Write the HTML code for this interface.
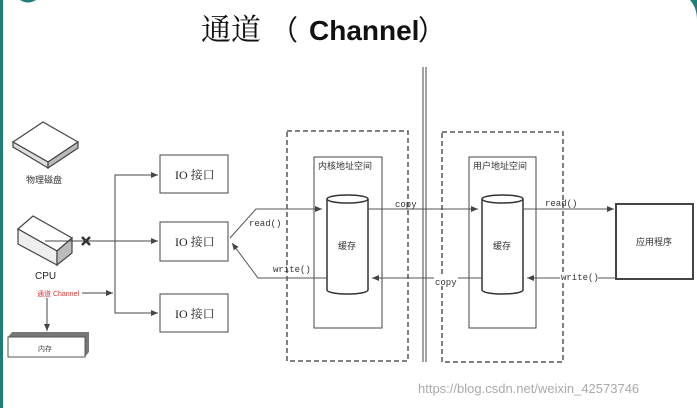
<!DOCTYPE html>
<html><head><meta charset="utf-8"><style>
body{margin:0;background:#fff;}
svg{display:block;}
</style></head><body>
<svg width="697" height="408" viewBox="0 0 697 408" xmlns="http://www.w3.org/2000/svg">
<defs>
<marker id="a" markerWidth="8" markerHeight="8" refX="7" refY="4" orient="auto" markerUnits="userSpaceOnUse"><path d="M0,1 L7,4 L0,7 z" fill="#444"/></marker>
</defs>
<rect x="0" y="0" width="3" height="408" fill="#1d7f78"/>
<path d="M20,0 Q28,5 36,0 z" fill="#1d7f78"/>
<path d="M690,0 Q697,8 697,20 L697,0 z" fill="#1d7f78"/>
<text x="201" y="40" font-size="30" fill="#111" style="font-family:'Noto Serif CJK SC',serif">通道</text>
<text x="270" y="40" font-size="28" fill="#111" style="font-family:'Noto Sans CJK SC',sans-serif">（</text>
<text x="309" y="40" font-size="28" font-weight="bold" fill="#111" style="font-family:'Liberation Sans',sans-serif">Channel</text>
<text x="418" y="40" font-size="28" fill="#111" style="font-family:'Noto Sans CJK SC',sans-serif">）</text>
<g stroke="#444" stroke-width="1.2" fill="#fff">
<path d="M13,142 L43,122 L78,142 L48,162 z"/>
<path d="M13,142 L13,147 L48,168 L48,162 z" fill="#ddd"/>
<path d="M48,162 L78,142 L78,148 L48,168 z" fill="#bbb"/>
</g>
<text x="26" y="183" font-size="9" fill="#333" style="font-family:'Noto Sans CJK SC',sans-serif">物理磁盘</text>
<g stroke="#444" stroke-width="1.2">
<path d="M18,229 L33,216 L72,238 L57,251 z" fill="#fff"/>
<path d="M18,229 L57,251 L57,265 L18,244 z" fill="#eee"/>
<path d="M57,251 L72,238 L72,253 L57,265 z" fill="#bbb"/>
</g>
<text x="35" y="279" font-size="10" fill="#222" style="font-family:'Liberation Sans',sans-serif">CPU</text>
<g stroke="#444" stroke-width="1" fill="none">
<line x1="45" y1="241" x2="158" y2="241" marker-end="url(#a)"/>
<polyline points="158,175 115,175 115,313 158,313" />
<line x1="150" y1="175" x2="158" y2="175" marker-end="url(#a)"/>
<line x1="150" y1="313" x2="158" y2="313" marker-end="url(#a)"/>
<line x1="82" y1="293" x2="113" y2="293" marker-end="url(#a)"/>
<line x1="47" y1="298" x2="47" y2="331" marker-end="url(#a)"/>
</g>
<g stroke="#333" stroke-width="2.5"><line x1="82" y1="237" x2="90" y2="245"/><line x1="90" y1="237" x2="82" y2="245"/></g>
<text x="37" y="296" font-size="7" fill="#d33" style="font-family:'Liberation Sans','Noto Sans CJK SC',sans-serif">通道 Channel</text>
<path d="M8,337 L12,332 L89,332 L89,352 L85,357 z" fill="#777"/>
<rect x="8" y="337" width="77" height="20" fill="#fff" stroke="#555"/>
<text x="38" y="351" font-size="7" fill="#444" style="font-family:'Noto Sans CJK SC',sans-serif">内存</text>
<g fill="#fff" stroke="#444" stroke-width="1">
<rect x="160" y="155" width="68" height="38"/>
<rect x="160" y="222" width="68" height="39"/>
<rect x="160" y="294" width="68" height="38"/>
</g>
<g font-size="12" fill="#222" style="font-family:'Liberation Serif','Noto Serif CJK SC',serif">
<text x="175" y="179">IO 接口</text>
<text x="175" y="246">IO 接口</text>
<text x="175" y="318">IO 接口</text>
</g>
<g fill="none" stroke="#555" stroke-width="1.5" stroke-dasharray="5,3">
<rect x="287" y="131" width="121" height="230"/>
<rect x="442" y="132" width="121" height="230"/>
</g>
<g fill="none" stroke="#444" stroke-width="1">
<rect x="314" y="157" width="68" height="171"/>
<rect x="469" y="157" width="67" height="171"/>
<rect x="616" y="204" width="77" height="75" stroke-width="2"/>
<line x1="423" y1="67" x2="423" y2="362"/><line x1="426" y1="67" x2="426" y2="362"/>
</g>
<g stroke="#333" stroke-width="1.5" fill="#fff">
<path d="M327,199 L327,290 A20.5,4 0 0 0 368,290 L368,199"/>
<ellipse cx="347.5" cy="199" rx="20.5" ry="4"/>
<path d="M482,199 L482,290 A20.5,4 0 0 0 523,290 L523,199"/>
<ellipse cx="502.5" cy="199" rx="20.5" ry="4"/>
</g>
<g font-size="9" fill="#333" style="font-family:'Noto Sans CJK SC',sans-serif">
<text x="318" y="169">内核地址空间</text>
<text x="473" y="169">用户地址空间</text>
<text x="636" y="245">应用程序</text>
<text x="338" y="249">缓存</text>
<text x="493" y="249">缓存</text>
</g>
<g stroke="#555" stroke-width="1" fill="none">
<polyline points="230,238 256,209 322,209" marker-end="url(#a)"/>
<polyline points="327,278 258,278 232,243" marker-end="url(#a)"/>
<line x1="368" y1="209" x2="478" y2="209" marker-end="url(#a)"/>
<line x1="482" y1="278" x2="372" y2="278" marker-end="url(#a)"/>
<line x1="523" y1="209" x2="614" y2="209" marker-end="url(#a)"/>
<line x1="616" y1="278" x2="527" y2="278" marker-end="url(#a)"/>
</g>
<g font-size="9" fill="#333" style="font-family:'Liberation Mono',monospace">
<rect x="248" y="218" width="33" height="9" fill="#fff"/>
<text x="249" y="226">read()</text>
<text x="273" y="272">write()</text>
<text x="395" y="207">copy</text>
<rect x="434" y="276" width="24" height="10" fill="#fff"/>
<text x="435" y="285">copy</text>
<text x="545" y="206">read()</text>
<rect x="560" y="272" width="38" height="10" fill="#fff"/>
<text x="561" y="280">write()</text>
</g>
<text x="418" y="393" font-size="13" fill="#aaa" style="font-family:'Liberation Sans',sans-serif">https://blog.csdn.net/weixin_42573746</text>
</svg>
</body></html>
